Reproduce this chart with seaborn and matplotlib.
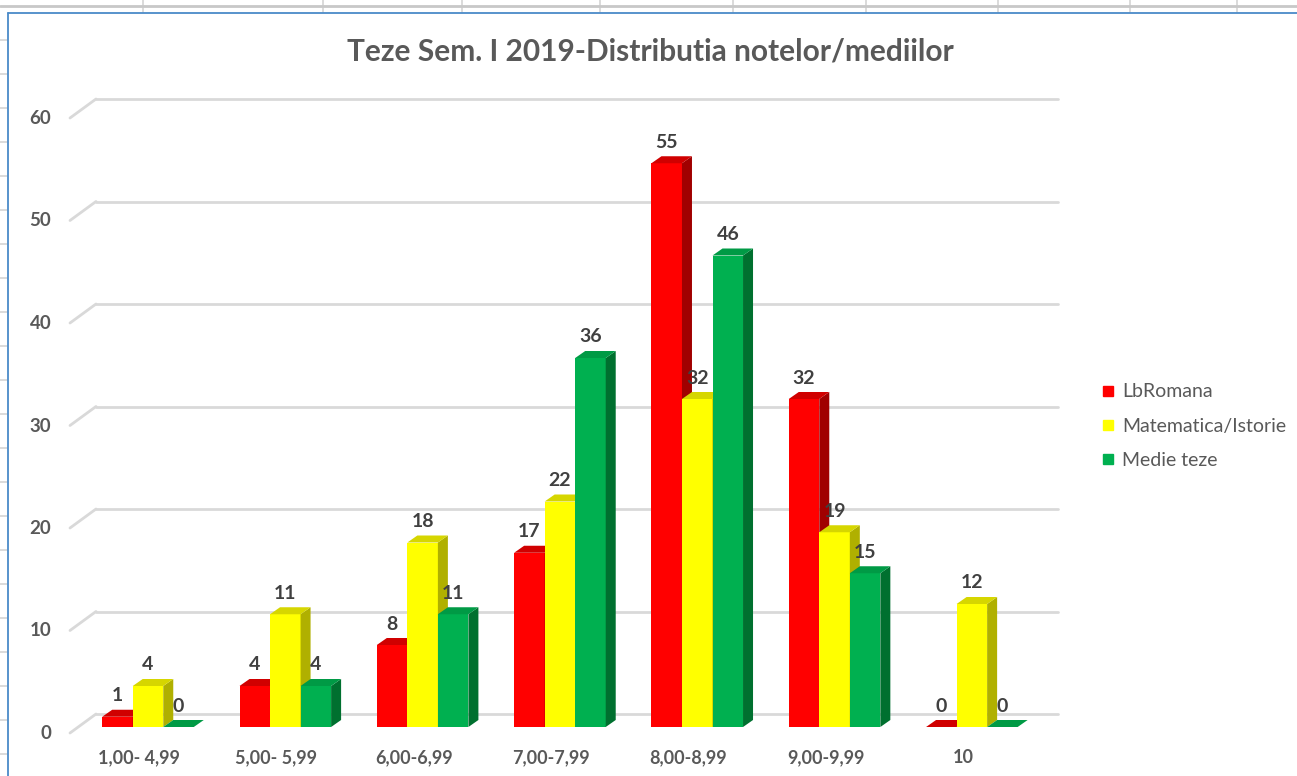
import numpy as np
import pandas as pd
import seaborn as sns
import matplotlib.pyplot as plt
from matplotlib.patches import Polygon
from matplotlib.lines import Line2D
from matplotlib import transforms

# data
categories = ["1,00- 4,99", "5,00- 5,99", "6,00-6,99", "7,00-7,99", "8,00-8,99", "9,00-9,99", "10"]
lb_romana = [1, 4, 8, 17, 55, 32, 0]
matematica = [4, 11, 18, 22, 32, 19, 12]
medie_teze = [0, 4, 11, 36, 46, 15, 0]
series = ["LbRomana", "Matematica/Istorie", "Medie teze"]
y_ticks = [0, 10, 20, 30, 40, 50, 60]
title = "Teze Sem. I 2019-Distributia notelor/mediilor"

front_colors = ["#FF0000", "#FFFF00", "#00B050"]
top_colors = ["#D00000", "#D6D600", "#009A45"]
side_colors = ["#A00000", "#B0B000", "#00702F"]
text_gray = "#595959"

df = pd.DataFrame({
    "cat": categories * 3,
    "val": lb_romana + matematica + medie_teze,
    "serie": [s for s in series for _ in categories],
})

W, H = 1297, 776
sns.set_style("white")
plt.rcParams["font.family"] = ["Lato", "DejaVu Sans"]

fig = plt.figure(figsize=(W / 100, H / 100), dpi=100)
ax = fig.add_axes([70 / W, (H - 727) / H, 962 / W, 615 / H])

sns.barplot(data=df, x="cat", y="val", hue="serie", order=categories, hue_order=series,
            palette=front_colors, saturation=1, width=0.667, linewidth=0,
            legend=False, ax=ax, zorder=3)

ax.set_xlim(-0.568, 6.438)
ax.set_ylim(0, 60)
ax.set_yticks(y_ticks)
ax.set_xlabel("")
ax.set_ylabel("")
for s in ax.spines.values():
    s.set_visible(False)
ax.tick_params(length=0, labelcolor=text_gray)
ax.tick_params(axis="y", pad=13.5, labelsize=13.5)
ax.tick_params(axis="x", pad=16, labelsize=13)
for lab in ax.get_xticklabels() + ax.get_yticklabels():
    lab.set_fontweight("bold")
for lab in ax.get_xticklabels():
    lab.set_transform(lab.get_transform() + transforms.ScaledTranslation(-9 / 100, 0, fig.dpi_scale_trans))
for lab in ax.get_yticklabels():
    lab.set_transform(lab.get_transform() + transforms.ScaledTranslation(0, -5 / 100, fig.dpi_scale_trans))

# pixel -> data units
p0 = ax.transData.transform((0, 0))
p1 = ax.transData.transform((1, 1))
ux, uy = p1[0] - p0[0], p1[1] - p0[1]
xmin, xmax = ax.get_xlim()

# back wall gridlines with the side wall diagonal
gx, gb, gf = 26 / ux, 13 / uy, 6 / uy
for v in y_ticks:
    ax.plot([xmin + gx, xmax + gx], [v + gb, v + gb], color="#D9D9D9", lw=2,
            zorder=1, clip_on=False)
    ax.plot([xmin, xmin + gx], [v - gf, v + gb], color="#D9D9D9", lw=2,
            zorder=1, clip_on=False)

# fake 3D: side and top faces from each bar
bx, by = 10 / ux, 7 / uy
bars = []
for i, cont in enumerate(ax.containers):
    for p in cont.patches:
        bars.append((p, i))
bars.sort(key=lambda t: t[0].get_x())
for k, (p, i) in enumerate(bars):
    x0, w, h = p.get_x(), p.get_width(), p.get_height()
    z = 3 + k * 0.01
    p.set_zorder(z)
    side = Polygon([(x0 + w, 0), (x0 + w + bx, by), (x0 + w + bx, h + by), (x0 + w, h)],
                   closed=True, facecolor=side_colors[i], edgecolor="none", zorder=z + 0.001,
                   clip_on=False)
    top = Polygon([(x0, h), (x0 + w, h), (x0 + w + bx, h + by), (x0 + bx, h + by)],
                  closed=True, facecolor=top_colors[i], edgecolor="none", zorder=z + 0.002,
                  clip_on=False)
    ax.add_patch(side)
    ax.add_patch(top)
    ax.annotate(f"{int(round(h))}", (x0 + w / 2, h), xytext=(0, 21), textcoords="offset pixels",
                ha="center", va="center", fontsize=14, fontweight="bold", color="#404040",
                zorder=10, annotation_clip=False)

fig.text(650 / W, 1 - 51 / H, title, ha="center", va="center", fontsize=21.5,
         fontweight="bold", color=text_gray)

handles = [Line2D([], [], marker="s", linestyle="none", markersize=7.5,
                  markerfacecolor=c, markeredgecolor=c) for c in front_colors]
fig.legend(handles, series, loc="center left", bbox_to_anchor=(1102 / W, 1 - 426 / H),
           frameon=False, fontsize=14, labelcolor=text_gray, handlelength=0.6,
           handletextpad=0.45, labelspacing=0.88, borderpad=0, borderaxespad=0)

# spreadsheet grid behind the chart object
def fpx(xs, ys):
    return [x / W for x in xs], [1 - y / H for y in ys]

for xc in [143, 323, 462, 600, 733, 866, 998, 1130, 1237]:
    fig.add_artist(Line2D(*fpx([xc, xc], [0, 12]), color="#D4D4D4", lw=1.2))
fig.add_artist(Line2D(*fpx([0, W], [6, 6]), color="#C8C8C8", lw=2))
for yr in np.arange(40, H, 34):
    fig.add_artist(Line2D(*fpx([0, 7], [yr, yr]), color="#D4D4D4", lw=1.2))
fig.add_artist(Line2D(*fpx([8, W], [13, 13]), color="#4A8AC8", lw=1.3))
fig.add_artist(Line2D(*fpx([8, 8], [13, H]), color="#4A8AC8", lw=1.3))

fig.savefig("out.png", dpi=100)
